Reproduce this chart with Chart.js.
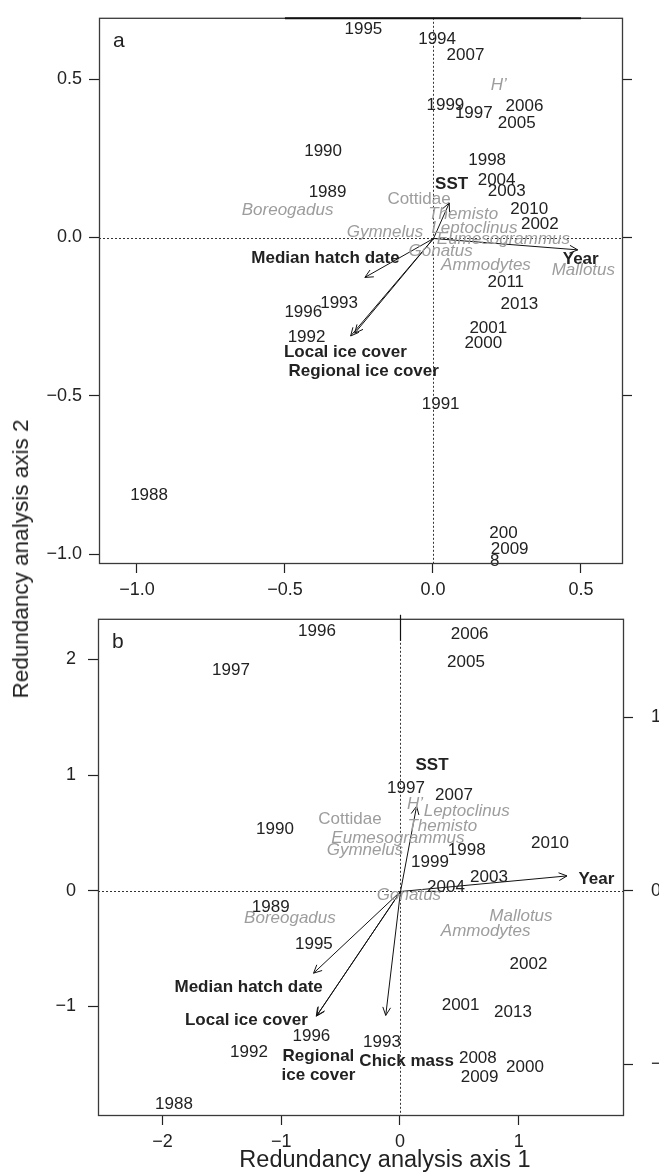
<!DOCTYPE html>
<html>
<head>
<meta charset="utf-8">
<title>Redundancy analysis biplots</title>
<script src="https://cdn.jsdelivr.net/npm/chart.js@4"></script>
<style>
  html, body { margin: 0; padding: 0; background: #fff; overflow: hidden; width: 659px; height: 1172px; }
  #fig { position: relative; width: 659px; height: 1172px; font-family: "Liberation Sans", Arial, sans-serif; color: #222; }
  #panelA { position: absolute; left: 0; top: 0; }
  #panelB { position: absolute; left: 0; top: 590px; }
  .ytitle { position: absolute; left: 21px; top: 559px; transform: translate(-50%, -50%) rotate(-90deg); font-size: 22.5px; white-space: nowrap; }
  .xtitle { position: absolute; left: 385px; top: 1159px; transform: translate(-50%, -50%); font-size: 23.5px; white-space: nowrap; }
</style>
</head>
<body>
<div id="fig">
  <canvas id="panelA" width="659" height="600"></canvas>
  <canvas id="panelB" width="659" height="582"></canvas>
  <div class="ytitle">Redundancy analysis axis 2</div>
  <div class="xtitle">Redundancy analysis axis 1</div>
</div>
<script>
// ---------- Panel a: site (year) scores ----------
const yearsA  = ['1995','1994','2007','1999','1997','2006','2005','1990','1998','2004','1989','2003','2010','2002','2011','1993','1996','2013','2001','1992','2000','1991','1988','200','2009','8'];
const yearsAX = [-0.235, 0.014, 0.110, 0.042, 0.138, 0.309, 0.283, -0.371, 0.183, 0.215, -0.356, 0.249, 0.325, 0.361, 0.246, -0.317, -0.438, 0.292, 0.187, -0.427, 0.170, 0.026, -0.959, 0.238, 0.259, 0.209];
const yearsAY = [0.657, 0.625, 0.575, 0.419, 0.391, 0.415, 0.361, 0.272, 0.244, 0.182, 0.143, 0.147, 0.088, 0.041, -0.142, -0.207, -0.236, -0.212, -0.288, -0.316, -0.333, -0.528, -0.815, -0.935, -0.985, -1.024];

// Panel a: prey taxa and diversity scores
const taxaA  = ['H\u2019','Cottidae','Boreogadus','Themisto','Leptoclinus','Gymnelus','Eumesogrammus','Gonatus','Ammodytes','Mallotus'];
const taxaAX = [0.222, -0.047, -0.491, 0.102, 0.140, -0.162, 0.238, 0.026, 0.179, 0.508];
const taxaAY = [0.481, 0.122, 0.086, 0.075, 0.030, 0.017, -0.006, -0.043, -0.087, -0.103];

// Panel a: explanatory variables (label positions and arrow tips)
const driversA   = ['SST','Median hatch date','Year','Local ice cover','Regional ice cover'];
const driverAX   = [0.063, -0.363, 0.499, -0.296, -0.234];
const driverAY   = [0.168, -0.067, -0.069, -0.361, -0.424];
const driverTipAX = [0.055, -0.230, 0.489, -0.278, -0.264];
const driverTipAY = [0.109, -0.126, -0.039, -0.311, -0.302];

// Panel a axes
const xRangeA = [-1.128, 0.6385];
const yRangeA = [-1.028, 0.694];
const xTicksA = [-1.0, -0.5, 0.0, 0.5];
const yTicksA = [-1.0, -0.5, 0.0, 0.5];
const rightTicksA = [-0.5, 0.0, 0.5];
const topAxisSpanA = [-0.5, 0.5];

// ---------- Panel b: site (year) scores ----------
const yearsB  = ['1996','2006','2005','1997','1997','2007','1990','2010','1998','1999','2003','2004','1989','1995','2002','2001','2013','1996','1993','1992','2008','2000','2009','1988'];
const yearsBX = [-0.699, 0.587, 0.556, -1.424, 0.051, 0.455, -1.053, 1.264, 0.562, 0.253, 0.750, 0.388, -1.089, -0.725, 1.083, 0.511, 0.952, -0.746, -0.152, -1.272, 0.656, 1.053, 0.671, -1.904];
const yearsBY = [2.239, 2.219, 1.972, 1.908, 0.885, 0.828, 0.534, 0.408, 0.346, 0.248, 0.116, 0.032, -0.145, -0.467, -0.635, -0.988, -1.055, -1.257, -1.308, -1.400, -1.453, -1.524, -1.616, -1.846];

// Panel b: prey taxa and diversity scores
const taxaB  = ['H\u2019','Leptoclinus','Cottidae','Themisto','Eumesogrammus','Gymnelus','Gonatus','Boreogadus','Mallotus','Ammodytes'];
const taxaBX = [0.126, 0.562, -0.421, 0.357, -0.017, -0.295, 0.076, -0.927, 1.019, 0.722];
const taxaBY = [0.744, 0.683, 0.618, 0.557, 0.450, 0.349, -0.038, -0.237, -0.223, -0.349];

// Panel b: explanatory variables (label positions and arrow tips)
const driversB   = ['SST','Year','Median hatch date','Local ice cover','Regional\nice cover','Chick mass'];
const driverBX   = [0.270, 1.655, -1.275, -1.294, -0.687, 0.056];
const driverBY   = [1.081, 0.097, -0.837, -1.120, -1.514, -1.476];
const driverTipBX = [0.140, 1.407, -0.728, -0.699, -0.705, -0.120];
const driverTipBY = [0.730, 0.128, -0.713, -1.078, -1.085, -1.078];

// Panel b axes (right axis carries the species/biplot scale)
const xRangeB = [-2.544, 1.879];
const yRangeB = [-1.939, 2.351];
const rightRangeB = [-1.291, 1.566];
const xTicksB = [-2, -1, 0, 1];
const yTicksB = [-1, 0, 1, 2];
const rightTicksB = [-1, 0, 1];

// ---------- helpers ----------
const FONT = '"Liberation Sans", Arial, sans-serif';
const INK = '#222';
const GREY = '#9d9d9d';

const pts = (xs, ys) => xs.map((v, i) => ({ x: v, y: ys[i] }));
const fmt = d => v => (v < 0 ? '\u2212' : '') + Math.abs(v).toFixed(d);

function setTicks(values) {
  return scale => { scale.ticks = values.map(v => ({ value: v })); };
}

function drawArrow(ctx, x0, y0, x1, y1) {
  const ang = Math.atan2(y1 - y0, x1 - x0);
  const len = 9, spread = Math.PI / 7;
  ctx.beginPath();
  ctx.moveTo(x0, y0);
  ctx.lineTo(x1, y1);
  ctx.moveTo(x1 - len * Math.cos(ang - spread), y1 - len * Math.sin(ang - spread));
  ctx.lineTo(x1, y1);
  ctx.lineTo(x1 - len * Math.cos(ang + spread), y1 - len * Math.sin(ang + spread));
  ctx.stroke();
}

function labelStyle(role, text) {
  if (role === 'years') return { font: `17px ${FONT}`, color: INK };
  if (role === 'drivers') return { font: `bold 17px ${FONT}`, color: INK };
  // taxa: genus names and H' in italics, family names upright
  const italic = !/idae$/.test(text);
  return { font: `${italic ? 'italic ' : ''}17px ${FONT}`, color: GREY };
}

// Draws zero lines, arrows, point labels and the frame of each biplot panel
const biplotLayer = {
  id: 'biplotLayer',
  afterDatasetsDraw(chart, args, opts) {
    const { ctx, chartArea: a, scales } = chart;
    const x0 = Math.round(scales.x.getPixelForValue(0)) + 0.5;
    const y0 = Math.round(scales.y.getPixelForValue(0)) + 0.5;
    ctx.save();

    // dotted reference lines through the origin
    ctx.strokeStyle = '#333';
    ctx.lineWidth = 1;
    ctx.setLineDash([2, 2]);
    ctx.beginPath();
    ctx.moveTo(a.left, y0); ctx.lineTo(a.right, y0);
    ctx.moveTo(x0, a.top); ctx.lineTo(x0, a.bottom);
    ctx.stroke();
    ctx.setLineDash([]);

    // arrows for explanatory variables
    ctx.strokeStyle = '#111';
    ctx.lineWidth = 1;
    chart.data.datasets.forEach((ds, i) => {
      if (ds.role !== 'tips') return;
      chart.getDatasetMeta(i).data.forEach(el => drawArrow(ctx, x0, y0, el.x, el.y));
    });

    // text labels placed at the scores
    ctx.textAlign = 'center';
    ctx.textBaseline = 'middle';
    chart.data.datasets.forEach((ds, i) => {
      if (!ds.texts) return;
      chart.getDatasetMeta(i).data.forEach((el, j) => {
        const text = ds.texts[j];
        const st = labelStyle(ds.role, text);
        ctx.font = st.font;
        ctx.fillStyle = st.color;
        const lines = text.split('\n');
        const lh = 19;
        lines.forEach((ln, k) => {
          ctx.fillText(ln, el.x, el.y + (k - (lines.length - 1) / 2) * lh);
        });
      });
    });

    // panel frame
    ctx.strokeStyle = '#3a3a3a';
    ctx.lineWidth = 1.3;
    ctx.strokeRect(a.left + 0.5, a.top + 0.5, a.right - a.left, a.bottom - a.top);
    if (opts.topSpan) {
      ctx.strokeStyle = '#111';
      ctx.lineWidth = 2;
      ctx.beginPath();
      ctx.moveTo(scales.x.getPixelForValue(opts.topSpan[0]), a.top + 0.5);
      ctx.lineTo(scales.x.getPixelForValue(opts.topSpan[1]), a.top + 0.5);
      ctx.stroke();
    }
    if (opts.originTick) {
      ctx.strokeStyle = '#111';
      ctx.lineWidth = 1.2;
      ctx.beginPath();
      ctx.moveTo(x0, a.top - 4);
      ctx.lineTo(x0, a.top + 22);
      ctx.stroke();
    }

    // panel letter
    ctx.font = `21px ${FONT}`;
    ctx.fillStyle = INK;
    ctx.textAlign = 'left';
    ctx.textBaseline = 'alphabetic';
    ctx.fillText(opts.letter, a.left + 14, a.top + 29);
    ctx.restore();
  }
};

function axisCommon(extra) {
  return Object.assign({
    type: 'linear',
    bounds: 'data',
    border: { display: false },
    grid: { display: true, drawOnChartArea: false, drawTicks: true, tickLength: 10, tickColor: INK, tickWidth: 1.2 }
  }, extra);
}

function buildPanel(canvasId, cfg) {
  return new Chart(document.getElementById(canvasId), {
    type: 'scatter',
    data: {
      datasets: [
        { role: 'years', texts: cfg.years, data: pts(cfg.yearsX, cfg.yearsY) },
        { role: 'taxa', texts: cfg.taxa, data: pts(cfg.taxaX, cfg.taxaY) },
        { role: 'drivers', texts: cfg.drivers, data: pts(cfg.driverX, cfg.driverY) },
        { role: 'tips', data: pts(cfg.tipX, cfg.tipY) }
      ]
    },
    options: {
      responsive: false,
      animation: false,
      events: [],
      devicePixelRatio: 1,
      layout: { padding: { top: cfg.padTop, left: 0, right: 0, bottom: 0 } },
      elements: { point: { radius: 0, hoverRadius: 0 } },
      plugins: {
        legend: { display: false },
        tooltip: { enabled: false },
        biplotLayer: { letter: cfg.letter, topSpan: cfg.topSpan, originTick: cfg.originTick }
      },
      scales: {
        x: axisCommon({
          position: 'bottom', min: cfg.xRange[0], max: cfg.xRange[1],
          afterBuildTicks: setTicks(cfg.xTicks),
          afterFit: s => { s.height = cfg.bottomH; },
          ticks: { autoSkip: false, maxRotation: 0, padding: 6, color: INK, font: { family: FONT, size: 18 }, callback: fmt(cfg.dec) }
        }),
        y: axisCommon({
          position: 'left', min: cfg.yRange[0], max: cfg.yRange[1],
          afterBuildTicks: setTicks(cfg.yTicks),
          afterFit: s => { s.width = cfg.leftW; },
          ticks: { autoSkip: false, padding: cfg.leftPad, color: INK, font: { family: FONT, size: 18 }, callback: fmt(cfg.dec) }
        }),
        y2: axisCommon({
          position: 'right', min: cfg.rightRange[0], max: cfg.rightRange[1],
          afterBuildTicks: setTicks(cfg.rightTicks),
          afterFit: s => { s.width = cfg.rightW; },
          ticks: { display: cfg.rightLabels, autoSkip: false, padding: 18, color: INK, font: { family: FONT, size: 18 }, callback: fmt(0) }
        })
      }
    },
    plugins: [biplotLayer]
  });
}

buildPanel('panelA', {
  letter: 'a',
  years: yearsA, yearsX: yearsAX, yearsY: yearsAY,
  taxa: taxaA, taxaX: taxaAX, taxaY: taxaAY,
  drivers: driversA, driverX: driverAX, driverY: driverAY,
  tipX: driverTipAX, tipY: driverTipAY,
  xRange: xRangeA, yRange: yRangeA, rightRange: yRangeA,
  xTicks: xTicksA, yTicks: yTicksA, rightTicks: rightTicksA,
  rightLabels: false, dec: 1,
  padTop: 13, bottomH: 37, leftW: 99, rightW: 37, leftPad: 7,
  topSpan: topAxisSpanA, originTick: false
});

buildPanel('panelB', {
  letter: 'b',
  years: yearsB, yearsX: yearsBX, yearsY: yearsBY,
  taxa: taxaB, taxaX: taxaBX, taxaY: taxaBY,
  drivers: driversB, driverX: driverBX, driverY: driverBY,
  tipX: driverTipBX, tipY: driverTipBY,
  xRange: xRangeB, yRange: yRangeB, rightRange: rightRangeB,
  xTicks: xTicksB, yTicks: yTicksB, rightTicks: rightTicksB,
  rightLabels: true, dec: 0,
  padTop: 15, bottomH: 57, leftW: 98, rightW: 36, leftPad: 12,
  topSpan: null, originTick: true
});
</script>
</body>
</html>
